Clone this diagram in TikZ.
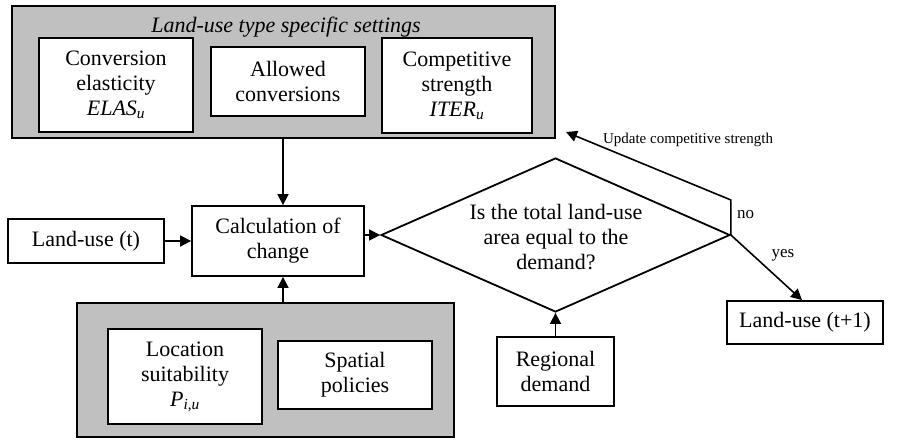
\documentclass[tikz,border=0pt]{standalone}
\usepackage{fontspec}
\setmainfont{Liberation Serif}
\usetikzlibrary{shapes.geometric,arrows.meta}
\definecolor{panelgray}{RGB}{192,192,192}
\begin{document}
\begin{tikzpicture}[x=1pt,y=-1pt,
  every node/.style={font=\fontsize{22}{25}\selectfont, inner sep=0pt, align=center},
  panel/.style={draw, line width=2pt, fill=panelgray},
  inbox/.style={draw, line width=2.6pt, fill=white},
  box/.style={draw, line width=1.8pt, fill=white},
  conn/.style={line width=1.6pt, -{Triangle[length=11pt,width=11pt]}},
  small/.style={font=\fontsize{15}{17}\selectfont},
  lbl/.style={font=\fontsize{17}{19}\selectfont}
]
\useasboundingbox (0,0) rectangle (899,440);

% top panel
\node[panel, minimum width=543pt, minimum height=132pt] (topbox) at (283.5,72) {};
\node (title) at (286,27) {\itshape Land-use type specific settings};
\node[inbox, minimum width=154pt, minimum height=94pt] (elas) at (116,85)
  {Conversion\\elasticity\\\textit{ELAS}\textsubscript{\textit{u}}};
\node[inbox, minimum width=154pt, minimum height=69pt] (allowed) at (288,81.5)
  {Allowed\\conversions};
\node[inbox, minimum width=150pt, minimum height=95pt] (iter) at (457,85.5)
  {Competitive\\strength\\\textit{ITER}\textsubscript{\textit{u}}};

% middle row
\node[box, minimum width=172pt, minimum height=70pt] (calc) at (278,241)
  {Calculation of\\change};
\node[box, minimum width=156pt, minimum height=44pt] (lut) at (86,241) {Land-use (t)};

% bottom panel
\node[panel, minimum width=377pt, minimum height=134pt] (botbox) at (265.5,370) {};
\node[inbox, minimum width=154pt, minimum height=95pt] (loc) at (185,376.5)
  {Location\\suitability\\\textit{P}\textsubscript{\textit{i,u}}};
\node[inbox, minimum width=154pt, minimum height=68pt] (spatial) at (355,375)
  {Spatial\\policies};

% decision
\node[diamond, draw, line width=1.8pt, minimum width=349pt, minimum height=154pt] (dec) at (555.5,235) {};
\node (dectext) at (556,237) {Is the total land-use\\area equal to the\\demand?};

\node[box, minimum width=117pt, minimum height=69pt] (reg) at (555.5,371.5) {Regional\\demand};
\node[box, minimum width=156pt, minimum height=43pt] (lut1) at (805,322.5) {Land-use (t+1)};

% connectors
\draw[conn] (topbox.south -| 283,0) -- (calc.north -| 283,0);
\draw[conn] (botbox.north -| 283,0) -- (calc.south -| 283,0);
\draw[conn] (lut) -- (calc);
\draw[conn] (calc.east |- dec.west) -- (dec.west);
\draw[conn] (reg.north) -- (dec.south);
\draw[conn] (dec.east) -- ([xshift=-3pt]lut1.north);
\coordinate (nocorner) at ([yshift=35pt]dec.east);
\coordinate (updtip) at ([xshift=10pt,yshift=7pt]topbox.south east);
\draw[conn] (dec.east) -- (nocorner) -- (updtip);

% labels
\node[lbl, anchor=west] (no) at (737,215) {no};
\node[lbl] (yes) at (783,255) {yes};
\node[small] (upd) at (688,140) {Update competitive strength};
\end{tikzpicture}
\end{document}
